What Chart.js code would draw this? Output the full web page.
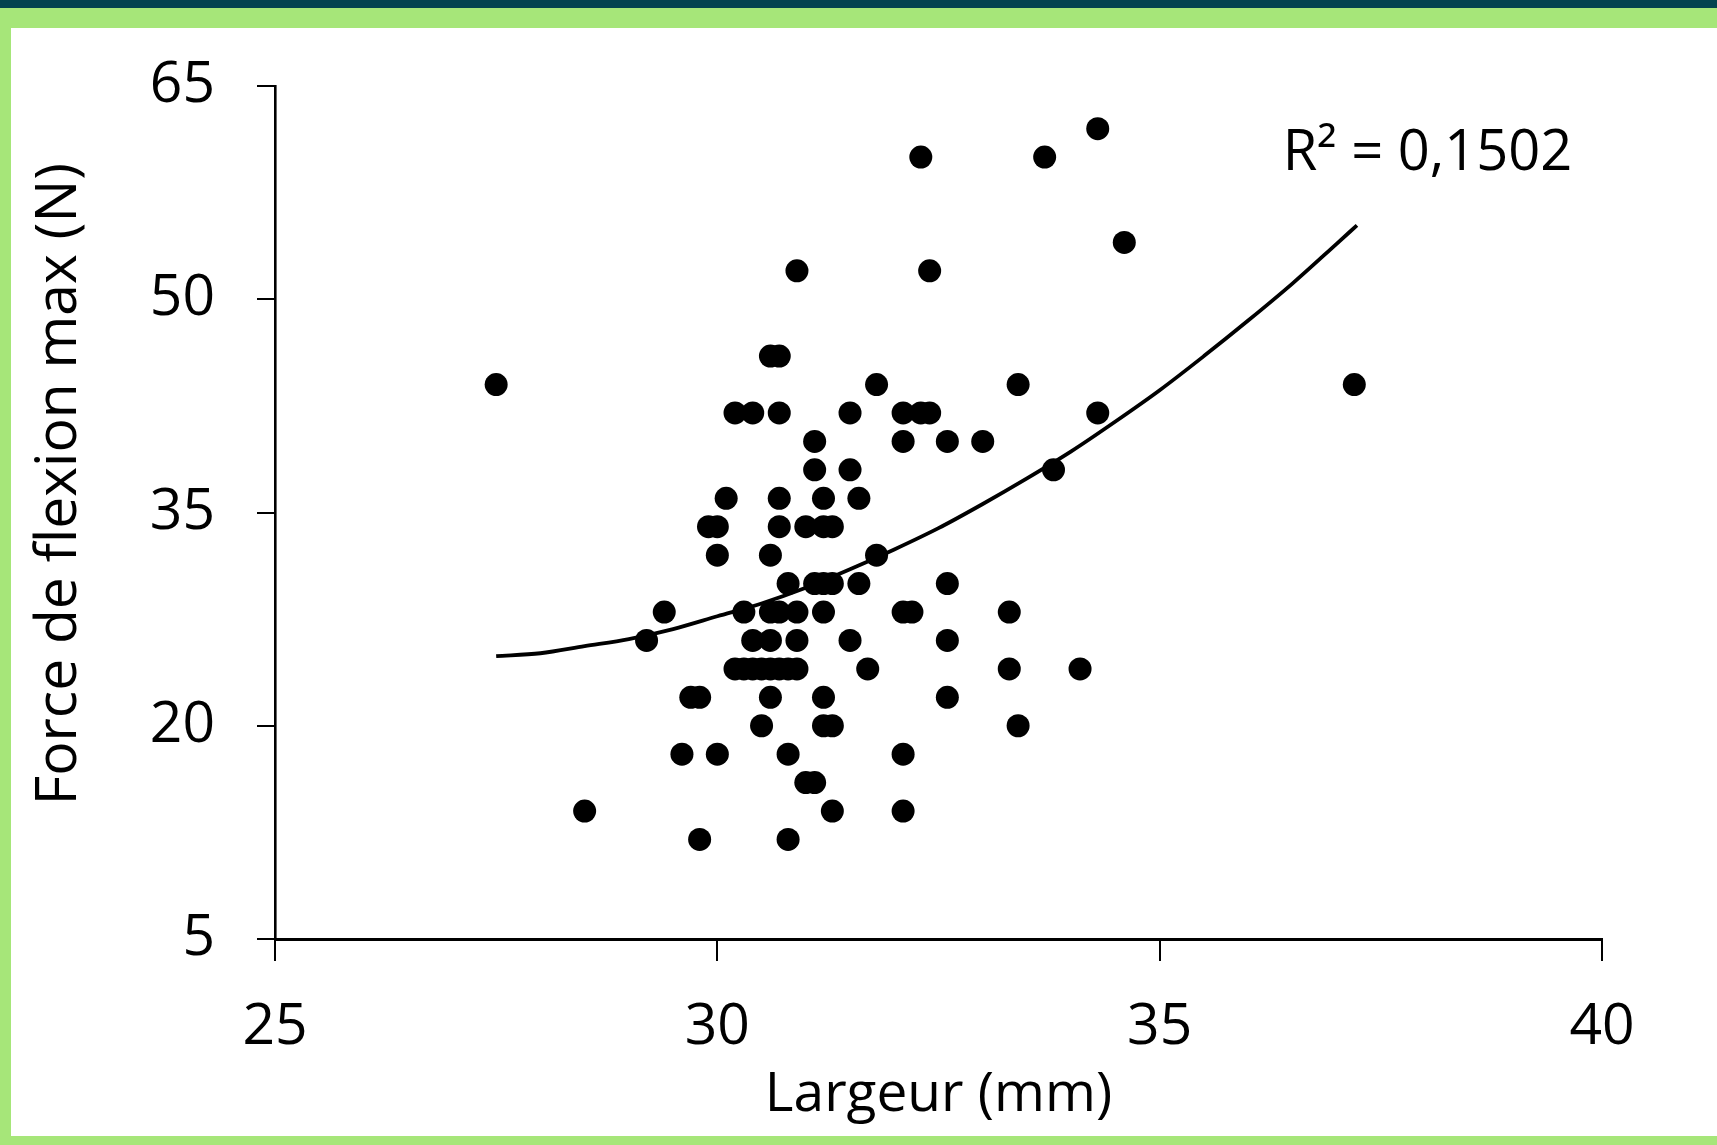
<!DOCTYPE html>
<html>
<head>
<meta charset="utf-8">
<script src="https://cdn.jsdelivr.net/npm/chart.js@4.4.1/dist/chart.umd.min.js"></script>
<style>
  html, body { margin: 0; padding: 0; }
  body { width: 1717px; height: 1145px; background: #a6e679; position: relative; overflow: hidden; }
  #band { position: absolute; left: 0; top: 0; width: 1717px; height: 8px; background: #02434f; }
  #panel { position: absolute; left: 11px; top: 28px; width: 1706px; height: 1108px; background: #fff; }
  #chart { display: block; }
</style>
</head>
<body>
<div id="band"></div>
<div id="panel"><canvas id="chart" width="1706" height="1108"></canvas></div>
<script>
// Largeur (mm) / Force de flexion max (N)
const largeur = [
    34.3,
    32.3, 33.7,
    34.6,
    30.9, 32.4,
    30.6, 30.7,
    27.5, 31.8, 33.4, 37.2,
    30.2, 30.4, 30.7, 31.5, 32.1, 32.3, 32.4, 34.3,
    31.1, 32.1, 32.6, 33.0,
    31.1, 31.5, 33.8,
    30.1, 30.7, 31.2, 31.6,
    29.9, 30.0, 30.7, 31.0, 31.2, 31.3,
    30.0, 30.6, 31.8,
    30.8, 31.1, 31.2, 31.3, 31.6, 32.6,
    29.4, 30.3, 30.6, 30.7, 30.9, 31.2, 32.1, 32.2, 33.3,
    29.2, 30.4, 30.6, 30.9, 31.5, 32.6,
    30.2, 30.3, 30.4, 30.5, 30.6, 30.7, 30.8, 30.9, 31.7, 33.3, 34.1,
    29.7, 29.8, 30.6, 31.2, 32.6,
    30.5, 31.2, 31.3, 33.4,
    29.6, 30.0, 30.8, 32.1,
    31.0, 31.1,
    28.5, 31.3, 32.1,
    29.8, 30.8
];
const force = [
    62,
    60, 60,
    54,
    52, 52,
    46, 46,
    44, 44, 44, 44,
    42, 42, 42, 42, 42, 42, 42, 42,
    40, 40, 40, 40,
    38, 38, 38,
    36, 36, 36, 36,
    34, 34, 34, 34, 34, 34,
    32, 32, 32,
    30, 30, 30, 30, 30, 30,
    28, 28, 28, 28, 28, 28, 28, 28, 28,
    26, 26, 26, 26, 26, 26,
    24, 24, 24, 24, 24, 24, 24, 24, 24, 24, 24,
    22, 22, 22, 22, 22,
    20, 20, 20, 20,
    18, 18, 18, 18,
    16, 16,
    14, 14, 14,
    12, 12
];

// courbe de tendance (polynomiale)
const trendX = [27.5, 28, 28.5, 29, 29.5, 30, 30.5, 31, 31.5, 32, 32.5, 33, 33.5, 34, 34.5, 35, 35.5, 36, 36.5, 37, 37.23];
const trendY = [24.9, 25.1, 25.6, 26.1, 26.8, 27.7, 28.6, 29.7, 31.0, 32.4, 33.9, 35.6, 37.4, 39.3, 41.4, 43.6, 46.0, 48.5, 51.1, 53.9, 55.2];

const xTicks = [25, 30, 35, 40];
const yTicks = [5, 20, 35, 50, 65];
const r2Label = 'R² = 0,1502';
const r2Pos = { x: 36.39, y: 59.1 };

const FONT = '"Open Sans", "DejaVu Sans", sans-serif';

const r2Plugin = {
    id: 'r2Plugin',
    afterDatasetsDraw(chart) {
        const ctx = chart.ctx;
        const px = chart.scales.x.getPixelForValue(r2Pos.x);
        const py = chart.scales.y.getPixelForValue(r2Pos.y);
        ctx.save();
        ctx.font = '56px ' + FONT;
        ctx.fillStyle = '#000';
        ctx.textAlign = 'left';
        ctx.textBaseline = 'alphabetic';
        ctx.fillText(r2Label, px, py);
        ctx.restore();
    }
};

const ctx = document.getElementById('chart').getContext('2d');

new Chart(ctx, {
    type: 'scatter',
    data: {
        datasets: [{
            label: 'Tendance',
            data: trendX.map((x, i) => ({ x: x, y: trendY[i] })),
            showLine: true,
            borderColor: '#000',
            borderWidth: 3.8,
            pointRadius: 0,
            cubicInterpolationMode: 'monotone',
            fill: false,
            order: 0
        }, {
            label: 'Mesures',
            data: largeur.map((x, i) => ({ x: x, y: force[i] })),
            backgroundColor: '#000',
            borderWidth: 0,
            pointRadius: 11.5,
            order: 1
        }]
    },
    options: {
        responsive: false,
        animation: false,
        layout: { padding: { top: 58, right: 115, bottom: 0, left: 0 } },
        plugins: {
            legend: { display: false },
            tooltip: { enabled: false }
        },
        scales: {
            x: {
                type: 'linear',
                min: 25,
                max: 40,
                afterBuildTicks: (scale) => { scale.ticks = xTicks.map(v => ({ value: v })); },
                afterFit: (scale) => { scale.height = 197; },
                grid: { drawOnChartArea: false, drawTicks: true, tickLength: 22, color: '#000', lineWidth: 2 },
                border: { display: true, color: '#000', width: 3 },
                ticks: { color: '#000', font: { family: FONT, size: 57 }, padding: 33, maxRotation: 0 },
                title: { display: true, text: 'Largeur (mm)', color: '#000', font: { family: FONT, size: 55 }, padding: { top: 0, bottom: 8 } }
            },
            y: {
                type: 'linear',
                min: 5,
                max: 65,
                afterBuildTicks: (scale) => { scale.ticks = yTicks.map(v => ({ value: v })); },
                afterFit: (scale) => {
                    scale.width = 264;
                    scale.paddingTop = 0;
                    scale.paddingBottom = 0;
                },
                grid: { drawOnChartArea: false, drawTicks: true, tickLength: 18, color: '#000', lineWidth: 2 },
                border: { display: true, color: '#000', width: 2.6 },
                ticks: { color: '#000', font: { family: FONT, size: 57 }, padding: 42 },
                title: { display: true, text: '\u2003Force de flexion max (N)', color: '#000', font: { family: FONT, size: 57 }, padding: { top: 15, bottom: 0 } }
            }
        }
    },
    plugins: [r2Plugin]
});
</script>
</body>
</html>
